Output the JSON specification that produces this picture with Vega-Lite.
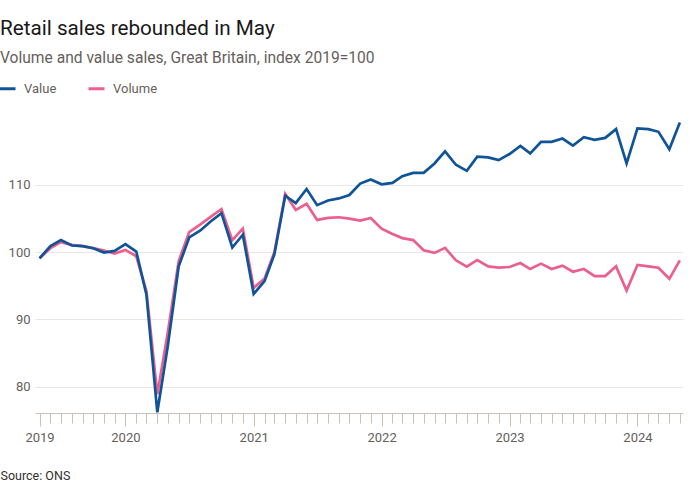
{
  "$schema": "https://vega.github.io/schema/vega-lite/v6.json",
  "width": 648,
  "height": 298,
  "autosize": {"type": "none"},
  "padding": {"left": 35, "top": 115, "right": 17, "bottom": 87},
  "background": "#ffffff",
  "title": {
    "text": "Retail sales rebounded in May",
    "subtitle": "Volume and value sales, Great Britain, index 2019=100",
    "anchor": "start",
    "frame": "group",
    "dx": -35,
    "offset": 11,
    "font": "Roboto",
    "fontSize": 20.7,
    "fontWeight": "normal",
    "color": "#1a1817",
    "subtitleFont": "Roboto",
    "subtitleFontSize": 15.6,
    "subtitleColor": "#66605c",
    "subtitlePadding": 12
  },
  "config": {
    "view": {"stroke": null},
    "font": "Roboto"
  },
  "data": {
    "values": [
      {"date": "2019-05-01", "series": "Volume", "index": 99.1},
      {"date": "2019-06-01", "series": "Volume", "index": 100.6},
      {"date": "2019-07-01", "series": "Volume", "index": 101.5},
      {"date": "2019-08-01", "series": "Volume", "index": 101.1},
      {"date": "2019-09-01", "series": "Volume", "index": 100.9},
      {"date": "2019-10-01", "series": "Volume", "index": 100.6},
      {"date": "2019-11-01", "series": "Volume", "index": 100.25},
      {"date": "2019-12-01", "series": "Volume", "index": 99.8},
      {"date": "2020-01-01", "series": "Volume", "index": 100.35},
      {"date": "2020-02-01", "series": "Volume", "index": 99.4},
      {"date": "2020-03-01", "series": "Volume", "index": 94.2},
      {"date": "2020-04-01", "series": "Volume", "index": 78.9},
      {"date": "2020-05-01", "series": "Volume", "index": 88.1},
      {"date": "2020-06-01", "series": "Volume", "index": 98.7},
      {"date": "2020-07-01", "series": "Volume", "index": 103.0},
      {"date": "2020-08-01", "series": "Volume", "index": 104.1},
      {"date": "2020-09-01", "series": "Volume", "index": 105.3},
      {"date": "2020-10-01", "series": "Volume", "index": 106.4},
      {"date": "2020-11-01", "series": "Volume", "index": 101.8},
      {"date": "2020-12-01", "series": "Volume", "index": 103.5},
      {"date": "2021-01-01", "series": "Volume", "index": 94.7},
      {"date": "2021-02-01", "series": "Volume", "index": 96.1},
      {"date": "2021-03-01", "series": "Volume", "index": 100.0},
      {"date": "2021-04-01", "series": "Volume", "index": 108.7},
      {"date": "2021-05-01", "series": "Volume", "index": 106.3},
      {"date": "2021-06-01", "series": "Volume", "index": 107.2},
      {"date": "2021-07-01", "series": "Volume", "index": 104.8},
      {"date": "2021-08-01", "series": "Volume", "index": 105.1},
      {"date": "2021-09-01", "series": "Volume", "index": 105.2},
      {"date": "2021-10-01", "series": "Volume", "index": 105.0},
      {"date": "2021-11-01", "series": "Volume", "index": 104.7},
      {"date": "2021-12-01", "series": "Volume", "index": 105.1},
      {"date": "2022-01-01", "series": "Volume", "index": 103.5},
      {"date": "2022-02-01", "series": "Volume", "index": 102.7},
      {"date": "2022-03-01", "series": "Volume", "index": 102.1},
      {"date": "2022-04-01", "series": "Volume", "index": 101.8},
      {"date": "2022-05-01", "series": "Volume", "index": 100.3},
      {"date": "2022-06-01", "series": "Volume", "index": 99.9},
      {"date": "2022-07-01", "series": "Volume", "index": 100.65},
      {"date": "2022-08-01", "series": "Volume", "index": 98.8},
      {"date": "2022-09-01", "series": "Volume", "index": 97.85},
      {"date": "2022-10-01", "series": "Volume", "index": 98.85},
      {"date": "2022-11-01", "series": "Volume", "index": 97.9},
      {"date": "2022-12-01", "series": "Volume", "index": 97.7},
      {"date": "2023-01-01", "series": "Volume", "index": 97.8},
      {"date": "2023-02-01", "series": "Volume", "index": 98.4},
      {"date": "2023-03-01", "series": "Volume", "index": 97.5},
      {"date": "2023-04-01", "series": "Volume", "index": 98.3},
      {"date": "2023-05-01", "series": "Volume", "index": 97.5},
      {"date": "2023-06-01", "series": "Volume", "index": 98.0},
      {"date": "2023-07-01", "series": "Volume", "index": 97.1},
      {"date": "2023-08-01", "series": "Volume", "index": 97.5},
      {"date": "2023-09-01", "series": "Volume", "index": 96.45},
      {"date": "2023-10-01", "series": "Volume", "index": 96.45},
      {"date": "2023-11-01", "series": "Volume", "index": 97.9},
      {"date": "2023-12-01", "series": "Volume", "index": 94.3},
      {"date": "2024-01-01", "series": "Volume", "index": 98.1},
      {"date": "2024-02-01", "series": "Volume", "index": 97.9},
      {"date": "2024-03-01", "series": "Volume", "index": 97.7},
      {"date": "2024-04-01", "series": "Volume", "index": 96.05},
      {"date": "2024-05-01", "series": "Volume", "index": 98.8},
      {"date": "2019-05-01", "series": "Value", "index": 99.1},
      {"date": "2019-06-01", "series": "Value", "index": 100.9},
      {"date": "2019-07-01", "series": "Value", "index": 101.8},
      {"date": "2019-08-01", "series": "Value", "index": 101.0},
      {"date": "2019-09-01", "series": "Value", "index": 100.9},
      {"date": "2019-10-01", "series": "Value", "index": 100.6},
      {"date": "2019-11-01", "series": "Value", "index": 99.95},
      {"date": "2019-12-01", "series": "Value", "index": 100.2},
      {"date": "2020-01-01", "series": "Value", "index": 101.2},
      {"date": "2020-02-01", "series": "Value", "index": 100.1},
      {"date": "2020-03-01", "series": "Value", "index": 93.7},
      {"date": "2020-04-01", "series": "Value", "index": 76.2},
      {"date": "2020-05-01", "series": "Value", "index": 86.1},
      {"date": "2020-06-01", "series": "Value", "index": 97.9},
      {"date": "2020-07-01", "series": "Value", "index": 102.2},
      {"date": "2020-08-01", "series": "Value", "index": 103.2},
      {"date": "2020-09-01", "series": "Value", "index": 104.6},
      {"date": "2020-10-01", "series": "Value", "index": 105.8},
      {"date": "2020-11-01", "series": "Value", "index": 100.7},
      {"date": "2020-12-01", "series": "Value", "index": 102.6},
      {"date": "2021-01-01", "series": "Value", "index": 93.8},
      {"date": "2021-02-01", "series": "Value", "index": 95.7},
      {"date": "2021-03-01", "series": "Value", "index": 99.66},
      {"date": "2021-04-01", "series": "Value", "index": 108.4},
      {"date": "2021-05-01", "series": "Value", "index": 107.3},
      {"date": "2021-06-01", "series": "Value", "index": 109.4},
      {"date": "2021-07-01", "series": "Value", "index": 107.0},
      {"date": "2021-08-01", "series": "Value", "index": 107.7},
      {"date": "2021-09-01", "series": "Value", "index": 108.0},
      {"date": "2021-10-01", "series": "Value", "index": 108.5},
      {"date": "2021-11-01", "series": "Value", "index": 110.2},
      {"date": "2021-12-01", "series": "Value", "index": 110.8},
      {"date": "2022-01-01", "series": "Value", "index": 110.1},
      {"date": "2022-02-01", "series": "Value", "index": 110.3},
      {"date": "2022-03-01", "series": "Value", "index": 111.3},
      {"date": "2022-04-01", "series": "Value", "index": 111.8},
      {"date": "2022-05-01", "series": "Value", "index": 111.8},
      {"date": "2022-06-01", "series": "Value", "index": 113.2},
      {"date": "2022-07-01", "series": "Value", "index": 115.0},
      {"date": "2022-08-01", "series": "Value", "index": 113.0},
      {"date": "2022-09-01", "series": "Value", "index": 112.1},
      {"date": "2022-10-01", "series": "Value", "index": 114.2},
      {"date": "2022-11-01", "series": "Value", "index": 114.1},
      {"date": "2022-12-01", "series": "Value", "index": 113.7},
      {"date": "2023-01-01", "series": "Value", "index": 114.6},
      {"date": "2023-02-01", "series": "Value", "index": 115.8},
      {"date": "2023-03-01", "series": "Value", "index": 114.7},
      {"date": "2023-04-01", "series": "Value", "index": 116.4},
      {"date": "2023-05-01", "series": "Value", "index": 116.4},
      {"date": "2023-06-01", "series": "Value", "index": 116.9},
      {"date": "2023-07-01", "series": "Value", "index": 115.85},
      {"date": "2023-08-01", "series": "Value", "index": 117.1},
      {"date": "2023-09-01", "series": "Value", "index": 116.7},
      {"date": "2023-10-01", "series": "Value", "index": 117.0},
      {"date": "2023-11-01", "series": "Value", "index": 118.3},
      {"date": "2023-12-01", "series": "Value", "index": 113.2},
      {"date": "2024-01-01", "series": "Value", "index": 118.4},
      {"date": "2024-02-01", "series": "Value", "index": 118.3},
      {"date": "2024-03-01", "series": "Value", "index": 117.9},
      {"date": "2024-04-01", "series": "Value", "index": 115.3},
      {"date": "2024-05-01", "series": "Value", "index": 119.3}
    ]
  },
  "mark": {"type": "line", "strokeWidth": 2.7, "strokeJoin": "miter", "clip": false},
  "encoding": {
    "x": {
      "field": "date",
      "type": "temporal",
      "scale": {
        "type": "utc",
        "domain": [
          {"year": 2019, "month": 4, "date": 18, "utc": true},
          {"year": 2024, "month": 5, "date": 10, "utc": true}
        ]
      },
      "axis": {
        "title": "Source: ONS",
        "titleFont": "Roboto",
        "titleFontSize": 12.5,
        "titleFontWeight": "normal",
        "titleColor": "#33302e",
        "titleAnchor": null,
        "titleAlign": "left",
        "titleBaseline": "alphabetic",
        "titleX": -35,
        "titleY": 66,
        "tickCount": {"interval": "month", "step": 1},
        "labelExpr": "(utcmonth(datum.value) == 0 || (utcyear(datum.value) == 2019 && utcmonth(datum.value) == 4)) ? utcFormat(datum.value, '%Y') : ''",
        "labelOverlap": false,
        "labelFontSize": 13,
        "labelColor": "#66605c",
        "labelPadding": 5,
        "labelFlush": false,
        "domainColor": "#ccc1b7",
        "tickColor": "#ccc1b7",
        "tickSize": {"condition": {"test": "utcmonth(datum.value) == 0 || (utcyear(datum.value) == 2019 && utcmonth(datum.value) == 4)", "value": 13}, "value": 10},
        "grid": false
      }
    },
    "y": {
      "field": "index",
      "type": "quantitative",
      "scale": {"domain": [76.1, 120.4], "nice": false, "zero": false},
      "axis": {
        "title": null,
        "values": [80, 90, 100, 110],
        "domain": false,
        "ticks": false,
        "labelFontSize": 13,
        "labelColor": "#66605c",
        "labelPadding": 5,
        "gridColor": "#ebe6e1",
        "gridWidth": 1
      }
    },
    "color": {
      "field": "series",
      "type": "nominal",
      "scale": {"domain": ["Value", "Volume"], "range": ["#0f5499", "#eb5f8e"]},
      "legend": {
        "title": null,
        "orient": "none",
        "legendX": -37,
        "legendY": -36,
        "direction": "horizontal",
        "symbolType": "stroke",
        "symbolStrokeWidth": 3,
        "symbolSize": 256,
        "labelFontSize": 13,
        "labelColor": "#66605c",
        "labelOffset": 7,
        "columnPadding": 25
      }
    }
  }
}
